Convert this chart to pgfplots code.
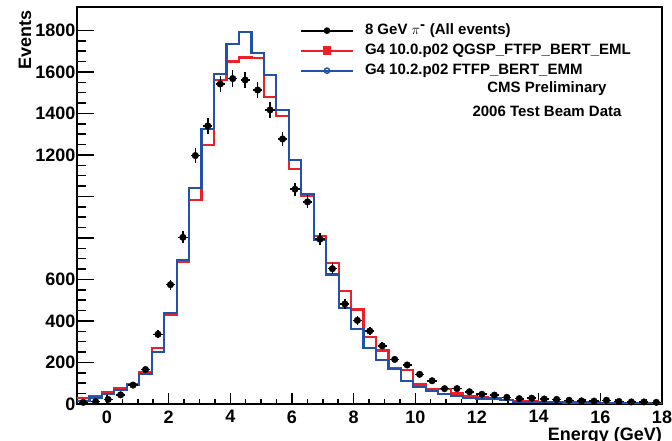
\documentclass[border=0pt]{standalone}
\usepackage{fontspec}
\setmainfont{Liberation Sans}
\usepackage{pgfplots}
\pgfplotsset{compat=1.18}
\usepackage{pgfplotstable}
\definecolor{rootred}{RGB}{238,32,39}
\definecolor{rootblue}{RGB}{35,80,168}

\pgfplotstableread{
x y
-0.970 30
-0.566 37
-0.162 59
0.242 79
0.646 97
1.050 153
1.454 271
1.858 430
2.262 685
2.666 983
3.070 1248
3.474 1561
3.878 1650
4.282 1670
4.686 1668
5.090 1478
5.494 1388
5.898 1132
6.302 1003
6.706 808
7.110 678
7.514 545
7.918 455
8.322 321
8.726 258
9.130 174
9.534 164
9.938 94
10.342 74
10.746 71
11.150 51
11.554 38
11.958 32
12.362 30
12.766 19
13.170 14
13.574 12
13.978 10
14.382 9
14.786 8
15.190 8
15.594 7
15.998 6
16.402 6
16.806 5
17.210 5
17.614 4
18.018 4
}\redhist

\pgfplotstableread{
x y
-0.970 16
-0.566 31
-0.162 47
0.242 67
0.646 91
1.050 143
1.454 249
1.858 438
2.262 694
2.666 1039
3.070 1325
3.474 1590
3.878 1735
4.282 1794
4.686 1691
5.090 1586
5.494 1417
5.898 1175
6.302 1012
6.706 790
7.110 624
7.514 461
7.918 360
8.322 268
8.726 212
9.130 168
9.534 110
9.938 80
10.342 63
10.746 49
11.150 40
11.554 27
11.958 25
12.362 24
12.766 19
13.170 11
13.574 10
13.978 9
14.382 8
14.786 7
15.190 7
15.594 6
15.998 5
16.402 5
16.806 4
17.210 4
17.614 3
18.018 3
}\bluehist

\pgfplotstableread{
x y ey
-0.768 8 2.8
-0.364 11 3.3
0.040 22 4.7
0.444 44 6.6
0.848 91 9.5
1.252 166 12.9
1.656 336 18.3
2.060 575 24.0
2.464 803 28.3
2.868 1197 34.6
3.272 1340 36.6
3.676 1542 39.3
4.080 1568 39.6
4.484 1561 39.5
4.888 1513 38.9
5.292 1417 37.6
5.696 1277 35.7
6.100 1035 32.2
6.504 974 31.2
6.908 794 28.2
7.312 652 25.5
7.716 482 22.0
8.120 403 20.1
8.524 352 18.8
8.928 280 16.7
9.332 215 14.7
9.736 188 13.7
10.140 143 12.0
10.544 112 10.6
10.948 74 8.6
11.352 74 8.6
11.756 59 7.7
12.160 47 6.9
12.564 43 6.6
12.968 32 5.7
13.372 26 5.1
13.776 28 5.3
14.180 24 4.9
14.584 22 4.7
14.988 18 4.2
15.392 15 3.9
15.796 14 3.7
16.200 18 4.2
16.604 12 3.5
17.008 10 3.2
17.412 10 3.2
17.816 8 2.8
}\datatab

\begin{document}
\begin{tikzpicture}
\begin{axis}[
  scale only axis,
  width=585pt, height=397pt,
  xmin=-0.97, xmax=18, ymin=0, ymax=1913,
  axis line style={line width=2pt},
  tick align=inside,
  xtick pos=bottom, ytick pos=left,
  xtick={0,2,...,18},
  ytick={0,200,...,1800},
  yticklabels={0,200,400,600,,,1200,1400,1600,1800},
  minor x tick num=3,
  minor y tick num=3,
  major tick length=17pt,
  minor tick length=9pt,
  xtick style={/pgfplots/major tick length=11pt, /pgfplots/minor tick length=5pt},
  every tick/.style={line width=1.5pt, black},
  /pgf/number format/assume math mode=true,
  ticklabel style={font=\bfseries\fontsize{18}{18}\selectfont},
  xticklabel style={yshift=-3pt},
  yticklabel style={xshift=2pt},
  xlabel={Energy (GeV)},
  ylabel={Events},
  xlabel style={at={(rel axis cs:1,-0.0579)}, anchor=north east, inner sep=0pt, font=\bfseries\fontsize{18}{18}\selectfont},
  ylabel style={at={(rel axis cs:-0.0786,0.9924)}, anchor=base east, inner sep=0pt, font=\bfseries\fontsize{18}{18}\selectfont},
  legend image code/.code={\draw[mark repeat=2,mark phase=2,#1] plot coordinates {(0pt,0pt) (26pt,0pt) (52pt,0pt)};},
  legend cell align=left,
  legend style={at={(rel axis cs:0.3812,0.958)}, anchor=north west, draw=none, fill=none,
    inner sep=0pt, outer sep=0pt, column sep=11pt, row sep=6pt,
    font=\bfseries\fontsize{15}{18}\selectfont,
    nodes={inner sep=0pt, text height=11pt, text depth=3pt}},
]
\addlegendimage{black, line width=2pt, mark=*, mark size=2.3pt}
\addlegendentry{8 GeV $\pi^{\mbox{-}}$ (All events)}
\addlegendimage{rootred, line width=2pt, mark=square*, mark size=3.2pt}
\addlegendentry{G4 10.0.p02 QGSP\_FTFP\_BERT\_EML}
\addlegendimage{rootblue, line width=2pt, mark=o, mark size=2.6pt, mark options={line width=1.5pt}}
\addlegendentry{G4 10.2.p02 FTFP\_BERT\_EMM}

\addplot[const plot, rootred, line width=2.2pt, forget plot] table {\redhist};
\addplot[const plot, rootblue, line width=2.2pt, forget plot] table {\bluehist};
\addplot[only marks, mark=*, mark size=3.3pt, black, forget plot,
  error bars/.cd, y dir=both, y explicit, x dir=both, x fixed=0.15,
  error bar style={line width=1.5pt}, error mark=none]
  table[x=x, y=y, y error=ey] {\datatab};

\node[font=\bfseries\fontsize{15}{18}\selectfont] at (rel axis cs:0.8034,0.7935) {CMS Preliminary};
\node[font=\bfseries\fontsize{15}{18}\selectfont] at (rel axis cs:0.8034,0.738) {2006 Test Beam Data};
\coordinate (bl) at (rel axis cs:0,0);
\coordinate (tr) at (rel axis cs:1,1);
\end{axis}
\pgfresetboundingbox
\path[use as bounding box] ([shift={(-77pt,-37pt)}]bl) rectangle ([shift={(10pt,7pt)}]tr);
\end{tikzpicture}
\end{document}
